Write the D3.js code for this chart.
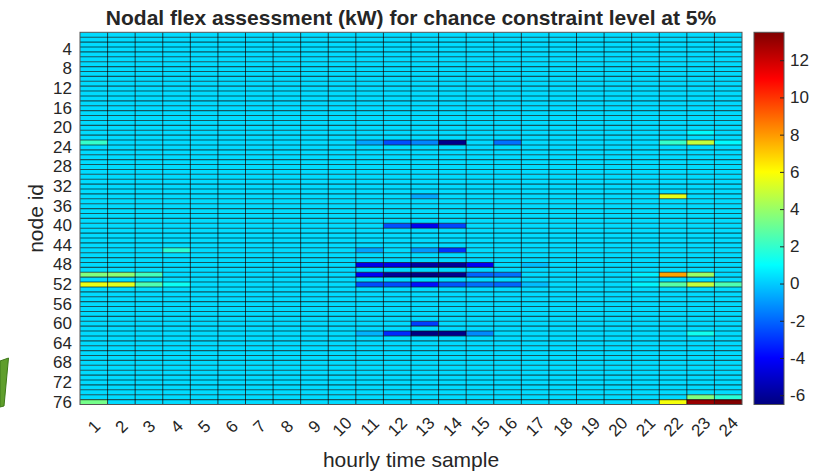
<!DOCTYPE html>
<html>
<head>
<meta charset="utf-8">
<script src="https://cdn.jsdelivr.net/npm/d3@7"></script>
<style>
  body { margin: 0; background: #fff; }
  svg text { font-family: "Liberation Sans", Arial, Helvetica, sans-serif; fill: #262626; }
</style>
</head>
<body>
<svg id="chart" width="814" height="472"></svg>
<script>
// ---- data -------------------------------------------------------------
const hours = d3.range(1, 25);               // hourly time samples 1..24
const nodes = d3.range(1, 77);               // node ids 1..76
const nodeTicks = d3.range(4, 77, 4);        // 4, 8, ..., 76
const colorTicks = [-6, -4, -2, 0, 2, 4, 6, 8, 10, 12];
const colorRange = [-6.5, 13.5];
const idleValue = 0.3;                       // flexibility of nodes with no notable offer (kW)

// nodes that offer notable flexibility
const flexNodes = [21, 23, 34, 40, 45, 48, 50, 52, 60, 62, 75, 76];
// hourly flexibility (kW) of each node in flexNodes, hours 1..24
const flexValues = [
  [0.3, 0.3, 0.3, 0.3, 0.3, 0.3, 0.3, 0.3, 0.3, 0.3, 0.3, 0.3, 0.3, 0.3, 0.3, 0.3, 0.3, 0.3, 0.3, 0.3, 0.3, 0.3, 0.9, 0.3],
  [2.0, 0.3, 0.3, 0.3, 0.3, 0.3, 0.3, 0.3, 0.3, 0.3, -0.8, -2.5, -1.4, -6.3, 0.3, -1.8, 0.3, 0.3, 0.3, 0.3, 0.3, 2.0, 4.8, 0.9],
  [0.3, 0.3, 0.3, 0.3, 0.3, 0.3, 0.3, 0.3, 0.3, 0.3, 0.3, 0.3, -0.7, 0.3, 0.3, 0.3, 0.3, 0.3, 0.3, 0.3, 0.3, 5.5, 0.3, 0.3],
  [0.3, 0.3, 0.3, 0.3, 0.3, 0.3, 0.3, 0.3, 0.3, 0.3, 0.3, -2.4, -4.3, -2.6, 0.3, 0.3, 0.3, 0.3, 0.3, 0.3, 0.3, 0.3, 0.3, 0.3],
  [0.3, 0.3, 0.3, 1.8, 0.3, 0.3, 0.3, 0.3, 0.3, 0.3, -0.8, 0.3, -1.0, -3.0, 0.3, 0.3, 0.3, 0.3, 0.3, 0.3, 0.3, 0.3, 0.3, 0.3],
  [0.3, 0.3, 0.3, 0.3, 0.3, 0.3, 0.3, 0.3, 0.3, 0.3, -4.4, -4.5, -5.8, -6.0, -4.2, 0.3, -0.3, 0.3, 0.3, 0.3, 0.3, 0.3, 0.3, 0.3],
  [3.5, 3.7, 2.3, 0.3, 0.3, 0.3, 0.3, 0.3, 0.3, 0.3, -4.2, -6.0, -6.5, -6.2, -2.0, -1.8, 0.3, 0.3, 0.3, 0.3, 0.7, 7.8, 4.0, 0.3],
  [5.6, 5.4, 2.5, 1.2, 0.3, 0.3, 0.3, 0.3, 0.3, 0.3, -2.5, -2.5, -3.7, -2.3, -1.8, -2.0, -0.3, 0.3, 0.3, 0.3, 0.8, 2.7, 4.8, 2.5],
  [0.3, 0.3, 0.3, 0.3, 0.3, 0.3, 0.3, 0.3, 0.3, 0.3, 0.3, 0.3, -2.8, 0.3, 0.3, 0.3, 0.3, 0.3, 0.3, 0.3, 0.3, 0.3, 0.3, 0.3],
  [0.3, 0.3, 0.3, 0.3, 0.3, 0.3, 0.3, 0.3, 0.3, 0.3, -0.5, -3.2, -6.5, -6.3, -1.3, 0.3, 0.3, 0.3, 0.3, 0.3, 0.3, 0.3, 1.3, 0.3],
  [0.3, 0.3, 0.3, 0.3, 0.3, 0.3, 0.3, 0.3, 0.3, 0.3, 0.3, 0.3, 0.3, 0.3, 0.3, 0.3, 0.3, 0.3, 0.3, 0.3, 0.3, 0.3, 3.5, 1.8],
  [3.3, 0.3, 0.3, 0.3, 0.3, 0.3, 0.3, 0.3, 0.3, 0.3, 0.3, 0.3, 0.3, 0.3, 0.3, 0.3, 0.3, 0.3, 0.3, 0.3, 0.3, 5.8, 13.0, 13.5]
];

// full node x hour table
const cells = [];
nodes.forEach(n => {
  const k = flexNodes.indexOf(n);
  hours.forEach((h, i) => cells.push({ node: n, hour: h, value: k >= 0 ? flexValues[k][i] : idleValue }));
});

// ---- layout -----------------------------------------------------------
const plot = { left: 80, right: 742, top: 32.3, bottom: 404.5 };
const bar = { left: 754, right: 784 };

const svg = d3.select("#chart");

const x = d3.scaleBand().domain(hours).range([plot.left, plot.right]).padding(0);
const y = d3.scaleBand().domain(nodes).range([plot.top, plot.bottom]).padding(0);

// MATLAB-style jet colormap
function jet(t) {
  const c = v => Math.max(0, Math.min(1, v));
  const r = c(1.5 - Math.abs(4 * t - 3));
  const g = c(1.5 - Math.abs(4 * t - 2));
  const b = c(1.5 - Math.abs(4 * t - 1));
  return d3.rgb(r * 255, g * 255, b * 255).formatHex();
}
const color = d3.scaleSequential(jet).domain(colorRange);

// ---- heat map cells ---------------------------------------------------
svg.append("g")
  .selectAll("rect")
  .data(cells)
  .join("rect")
  .attr("x", d => x(d.hour))
  .attr("y", d => y(d.node))
  .attr("width", x.bandwidth())
  .attr("height", y.bandwidth())
  .attr("fill", d => color(d.value));

// cell edges
const grid = svg.append("g").attr("stroke", "#000");
grid.selectAll("line.h")
  .data(nodes.slice(1))
  .join("line")
  .attr("class", "h")
  .attr("stroke-width", 1.1).attr("stroke-opacity", 0.62)
  .attr("x1", plot.left).attr("x2", plot.right)
  .attr("y1", d => y(d)).attr("y2", d => y(d));
grid.selectAll("line.v")
  .data(hours.slice(1))
  .join("line")
  .attr("class", "v")
  .attr("stroke-width", 1).attr("stroke-opacity", 0.72)
  .attr("y1", plot.top).attr("y2", plot.bottom)
  .attr("x1", d => x(d)).attr("x2", d => x(d));

// axes box
svg.append("rect")
  .attr("x", plot.left).attr("y", plot.top)
  .attr("width", plot.right - plot.left).attr("height", plot.bottom - plot.top)
  .attr("fill", "none").attr("stroke", "#555").attr("stroke-width", 1);

// ---- axes -------------------------------------------------------------
const yAxis = svg.append("g")
  .attr("transform", `translate(${plot.left},0)`)
  .call(d3.axisLeft(y).tickValues(nodeTicks).tickSize(0).tickPadding(8));
yAxis.select(".domain").remove();
yAxis.selectAll("text").style("font-size", "17px").attr("fill", "#262626");

const xAxis = svg.append("g")
  .attr("transform", `translate(0,${plot.bottom})`)
  .call(d3.axisBottom(x).tickSize(0));
xAxis.select(".domain").remove();
xAxis.selectAll("text")
  .style("font-size", "17px")
  .attr("fill", "#262626")
  .attr("y", 0).attr("dy", "0.35em")
  .attr("text-anchor", "middle")
  .attr("transform", "translate(0,22) rotate(-45)");

// ---- colour bar -------------------------------------------------------
const cb = d3.scaleLinear().domain(colorRange).range([plot.bottom, plot.top]);
const grad = svg.append("defs").append("linearGradient")
  .attr("id", "jetbar").attr("x1", 0).attr("x2", 0).attr("y1", 1).attr("y2", 0);
grad.selectAll("stop")
  .data(d3.range(0, 1.0001, 1 / 64))
  .join("stop")
  .attr("offset", d => d)
  .attr("stop-color", d => jet(d));
svg.append("rect")
  .attr("x", bar.left).attr("y", plot.top)
  .attr("width", bar.right - bar.left).attr("height", plot.bottom - plot.top)
  .attr("fill", "url(#jetbar)")
  .attr("stroke", "#555").attr("stroke-width", 1);

const cAxis = svg.append("g")
  .attr("transform", `translate(${bar.right},0)`)
  .call(d3.axisRight(cb).tickValues(colorTicks).tickFormat(d => String(d)).tickSize(-4).tickPadding(6));
cAxis.select(".domain").remove();
cAxis.selectAll("line").attr("stroke", "#262626");
cAxis.selectAll("text").style("font-size", "17px").attr("fill", "#262626");

// ---- titles -----------------------------------------------------------
const midX = (plot.left + plot.right) / 2;
svg.append("text")
  .attr("x", midX).attr("y", 24.5)
  .attr("text-anchor", "middle")
  .style("font-size", "21px").style("font-weight", "bold")
  .text("Nodal flex assessment (kW) for chance constraint level at 5%");

svg.append("text")
  .attr("x", midX).attr("y", 467)
  .attr("text-anchor", "middle")
  .style("font-size", "21px")
  .text("hourly time sample");

svg.append("text")
  .attr("transform", `translate(43,${(plot.top + plot.bottom) / 2}) rotate(-90)`)
  .attr("text-anchor", "middle")
  .style("font-size", "21px")
  .text("node id");

// decorative tab at the left edge
svg.append("polygon")
  .attr("points", "0,361 8.5,358 4,406 0,407")
  .attr("fill", "#5f9e2c")
  .attr("stroke", "#3f7a1a").attr("stroke-width", 1);
</script>
</body>
</html>
